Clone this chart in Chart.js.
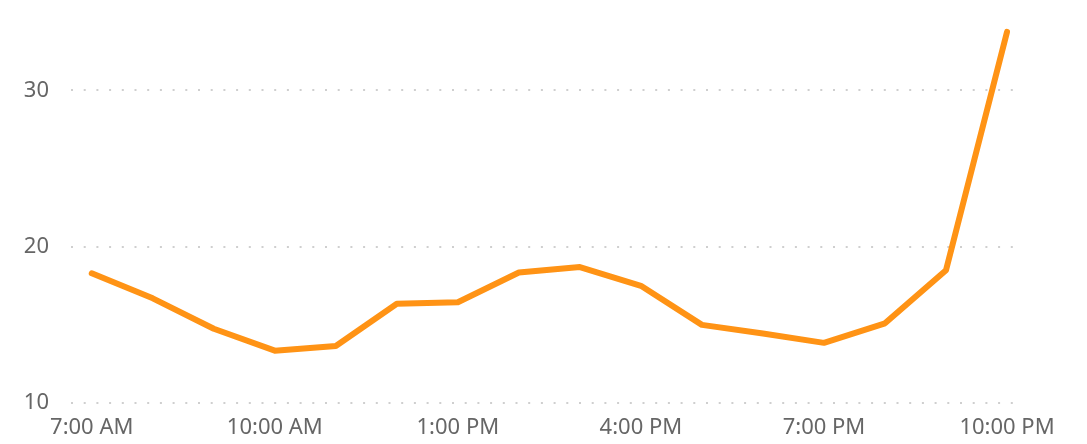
<!DOCTYPE html>
<html>
<head>
<meta charset="utf-8">
<script src="https://cdn.jsdelivr.net/npm/chart.js@4/dist/chart.umd.min.js"></script>
<style>
  html, body { margin: 0; padding: 0; background: #fff; }
  #wrap { width: 1087px; height: 444px; }
</style>
</head>
<body>
<div id="wrap"><canvas id="chartOne"></canvas></div>
<script>
// hours of the day (24h) and the value at each hour
const hours = [7, 8, 9, 10, 11, 12, 13, 14, 15, 16, 17, 18, 19, 20, 21, 22];
const values = [18.3, 16.7, 14.75, 13.35, 13.65, 16.35, 16.45, 18.35, 18.7, 17.5, 15.0, 14.45, 13.85, 15.1, 18.5, 33.75];

// tick labels
const xTicks = [7, 10, 13, 16, 19, 22];
const xTickLabels = ['7:00 AM', '10:00 AM', '1:00 PM', '4:00 PM', '7:00 PM', '10:00 PM'];
const yTicks = [10, 20, 30];

const points = hours.map((h, i) => ({ x: h, y: values[i] }));

const canvasOne = document.getElementById('chartOne');
const configOne = {
  type: 'line',
  data: {
    datasets: [
      {
        data: points,
        borderColor: '#ff9315',
        borderWidth: 6,
        borderCapStyle: 'round',
        borderJoinStyle: 'round',
        pointRadius: 0,
        tension: 0,
        fill: false,
      },
    ],
  },
  options: {
    animation: false,
    responsive: true,
    maintainAspectRatio: false,
    layout: { padding: { top: 28, right: 69, left: 0, bottom: 0 } },
    plugins: { legend: { display: false }, tooltip: { enabled: false } },
    scales: {
      x: {
        type: 'linear',
        min: 6.66,
        max: 22.18,
        afterBuildTicks: (axis) => { axis.ticks = xTicks.map(v => ({ value: v })); },
        afterFit: (axis) => { axis.height = 41; axis.paddingLeft = 0; axis.paddingRight = 0; },
        grid: { display: false },
        border: { display: false },
        ticks: {
          autoSkip: false,
          maxRotation: 0,
          padding: 4,
          color: '#666666',
          font: { family: 'Noto Sans', size: 22 },
          callback: (v) => xTickLabels[xTicks.indexOf(v)],
        },
      },
      y: {
        min: 10,
        max: 34,
        afterBuildTicks: (axis) => { axis.ticks = yTicks.map(v => ({ value: v })); },
        afterFit: (axis) => { axis.width = 71; axis.paddingTop = 0; axis.paddingBottom = 0; },
        border: { display: false, dash: [2, 10.7] },
        grid: { color: '#cfcfcf', lineWidth: 2, drawTicks: false },
        ticks: {
          padding: 22,
          color: '#666666',
          font: { family: 'Noto Sans', size: 22 },
        },
      },
    },
  },
};

const chartOne = new Chart(canvasOne, configOne);
</script>
</body>
</html>
